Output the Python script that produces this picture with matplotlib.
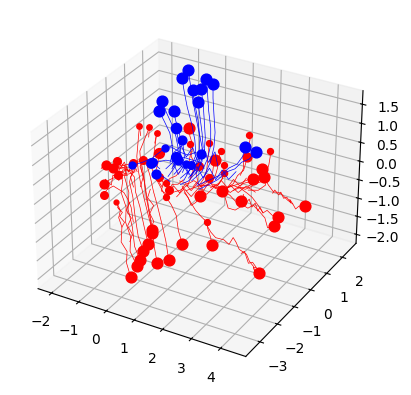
import matplotlib
matplotlib.use('Agg')
import matplotlib.pyplot as plt

# trajectories, the marker sits on the first point of each
blue_x = [
    [-.81,-.73,-.65,-.53,-.41,-.30,-.30,-.53],
    [-1.04,-.96,-.85,-.69,-.57,-.53,-.73,-1.0],
    [-.14,-.10,-.06,.02,.02,-.10,-.30,-.69],
    [.10,.10,.14,.18,.14,.02,-.22,-.49],
    [-.65,-.57,-.45,-.38,-.41,-.61,-.89],
    [-.34,-.26,-.22,-.18,-.22,-.41,-.73],
    [-.45,-.38,-.30,-.26,-.41,-.81,-1.12],
    [-1.79,-1.63,-1.44,-1.28,-1.2,-1.2,-1.4],
    [-1.91,-1.71,-1.51,-1.44,-1.4,-1.51],
    [-1.36,-1.28,-1.16,-1.08,-1.12,-1.32,-1.59],
    [-1.28,-1.2,-1.12,-1.2,-1.44],
    [-1.04,-1.0,-.96,-1.08,-1.36],
    [-2.97,-2.58,-2.18,-1.79,-1.4],
    [-1.71,-1.4,-1.12,-.81,-.53],
    [-2.26,-1.99,-1.67,-1.28,-.96],
    [-1.28,-1.0,-.69,-.41,-.22],
    [-.34,-.49,-.61,-.81],
    [-.73,-.49,-.81,-1.12],
    [1.28,1.2,1.0,.69,.45,.18,-.14,-.49],
    [1.67,1.43,1.16,.92,.61,.29,-.10,-.41],
    [-2.07,-1.79,-1.51],
    [-1.2,-.96,-.81],
    [-.89,-1.04],
    [-2.18,-1.91],
]
blue_z = [
    [1.64,1.28,.91,.46,.04,-.33,-.72,-1.12],
    [1.40,1.05,.65,.24,-.18,-.59,-1.0,-1.41],
    [1.54,1.16,.72,.26,-.21,-.61,-1.0,-1.34],
    [1.44,1.07,.60,.17,-.24,-.66,-1.11,-1.38],
    [1.14,.79,.37,-.09,-.49,-.88,-1.2],
    [1.24,.86,.42,-.04,-.45,-.88,-1.22],
    [.87,.49,.06,-.32,-.75,-1.10,-1.36],
    [.63,.35,.08,-.23,-.53,-.79,-1.1],
    [.34,.09,-.18,-.45,-.71,-1.0],
    [.44,.19,-.07,-.37,-.70,-1.08,-1.41],
    [0,-.27,-.51,-.84,-1.16],
    [-.28,-.49,-.74,-1.03,-1.3],
    [-1.39,-1.22,-1.01,-.71,-.50],
    [-.64,-.57,-.64,-.65,-.52],
    [-1.18,-1.09,-.97,-.94,-1.06],
    [-.81,-.75,-.76,-.75,-.89],
    [-.53,-.77,-1.06,-1.29],
    [-.90,-1.04,-1.37,-1.54],
    [.01,-.27,-.52,-.70,-.91,-1.07,-1.24,-1.43],
    [-.06,-.30,-.44,-.67,-.82,-1.10,-1.34,-1.52],
    [-1.43,-1.45,-1.54],
    [-.87,-1.01,-1.18],
    [-.91,-1.18],
    [-1.14,-1.26],
]
blue_s = [60,60,60,60,60,60,60,60,60,60,55,40,25,25,45,50,40,30,60,60,40,40,25,30]

# tight wiggles in the blue bundle, no marker on these
wiggle_blue_x = [
    [-1.67,-1.4,-1.2,-.96,-.73,-.49,-.26,-.02,.21,.45,.69,.96],
    [-1.36,-1.08,-.89,-.65,-.49,-.22,-.06,.18,.29],
]
wiggle_blue_z = [
    [-1.21,-.97,-1.27,-.95,-1.22,-.90,-1.17,-.85,-1.12,-.80,-1.01,-.74],
    [-.69,-.45,-.72,-.41,-.72,-.37,-.70,-.36,-.73],
]

red_x = [
    [-.35,-.49,-.46,-.67,-.63,-.74,-.67,-.81],
    [-.11,-.35,-.32,-.49,-.46,-.63,-.56,-.70],
    [0,-.18,-.25,-.39,-.35,-.49,-.42,-.77],
    [.14,-.04,-.14,-.21,-.32,-.21,-.28,-.91],
    [.32,.18,.04,-.11,-.14,-.35,-1.16],
    [.46,.32,.18,.07,0,-.04,.07],
    [.46,.39,.28,.21,.11,.07,.42],
    [.63,.53,.46,.35,.25,.18,.11,-.18],
    [1.05,.95,.81,.67,.53,.42,.32,.18],
    [1.54,1.40,1.33,1.16,.95,.67,.49,.67],
    [2.56,2.53,2.42,2.39,2.21,2.0,1.83,1.65,1.54],
    [4.21,4.04,4.0,3.86,3.76,3.51,3.40,3.30,3.16,2.98,2.70,2.53,2.32],
    [4.57,4.36,4.25,4.15,3.97,3.80,3.66,3.48,3.30,3.2,3.02,2.67,2.32,1.80],
    [3.66,3.45,3.27,3.13,2.95,2.74,2.57,2.32,2.08,1.80],
    [3.52,3.30,3.2,3.02,2.78,2.60,2.43,2.15,1.90,1.80,1.69],
    [2.36,2.15,1.97,1.73,1.51,1.27,.92],
    [1.69,1.51,1.20,.92,.64,.39],
    [.88,.74,.57,.46,.32],
    [1.23,1.09,.92,.67,.46,.15],
    [2.78,2.60,2.43,2.22,1.97,1.69],
    [3.13,3.02,2.85,2.67,2.50,2.25],
    [3.06,3.02,2.85,2.74,2.57,2.32,2.08],
    [2.53,2.50,2.43,2.22,2.08,1.87],
    [2.60,2.64,2.60,2.46,2.43,2.43,2.32],
    [3.34,3.34,3.30,3.23,3.13,3.2,2.95,2.60],
    [1.62,1.55,1.51,1.44,1.30],
    [1.20,1.20,1.16,1.13,1.02,.85],
    [1.41,1.37,1.34,1.20,.92],
    [1.76,1.73,1.69,1.55,1.27],
    [1.73,1.69,1.55,1.34],
    [.50,.53,.64,.57,.74,.60,.43],
    [.53,.57,.50,.64,.53],
    [.74,.70,.60,.70,.84],
    [.74,.88,.81,1.05],
    [.85,.74,.81,.64],
    [.98,1.19,1.47,1.75],
    [1.09,1.19,1.40,1.58],
    [.98,1.12,1.33,1.47],
    [-1.26,-1.16,-.91,-.70,-.53,-.39,-.28,-.21],
    [-1.23,-1.05,-.88,-.63,-.39],
    [-1.16,-.91,-.63,-.35],
    [-.91,-.70,-.39,-.18],
    [-.77,-.56,-.35,-.11],
    [-.74,-.53,-.35,-.11],
    [-.18,-.11,-.28,-.18],
    [.18,.07,.18,.07],
    [-.81,-.74,-.67],
    [2.39,2.32],
    [.07,.11],
    [.42,.39],
    [.67,.60],
]
red_z = [
    [-2.22,-1.88,-1.56,-1.35,-.94,-.71,-.51,-.30],
    [-1.87,-1.53,-1.13,-.78,-.37,-.02,.31,.43],
    [-1.68,-1.36,-.85,-.41,.04,.41,.69,.78],
    [-1.41,-1.06,-.56,-.05,.32,.61,.80,.57],
    [-1.19,-.75,-.26,.11,.49,.62,.58],
    [-.76,-.37,.04,.41,.71,1.04,1.83],
    [-.86,-.43,.02,.44,.74,1.2,1.87],
    [-1.61,-1.19,-.68,-.18,.27,.65,.95,.83],
    [-1.45,-.95,-.51,-.10,.26,.63,.87,.99],
    [-.91,-.58,-.20,.04,.23,.56,.83,1.77],
    [-.69,-.51,-.28,-.13,-.04,.09,.26,.46,.61],
    [-1.05,-1.04,-.92,-.82,-.66,-.59,-.43,-.33,-.54,-.46,-.47,-.36,-.14],
    [-.07,-.12,-.22,-.11,-.05,.04,.09,.06,.20,.31,.40,.24,.04,-.21],
    [-.56,-.56,-.47,-.57,-.40,-.24,-.17,-.09,-.07,-.18],
    [-.83,-.93,-.69,-.57,-.44,-.56,-.52,-.71,-.71,-.47,-.29],
    [-.43,-.47,-.36,-.28,-.19,-.19,-.35],
    [-.29,-.24,-.26,-.32,-.44,-.57],
    [-.62,-.81,-.93,-.74,-.64],
    [-.04,-.15,-.32,-.24,-.37,-.36],
    [.24,.13,.06,-.09,-.28,-.18],
    [.37,.22,.15,.01,-.08,-.08],
    [.57,.40,.23,.13,-.01,-.07,-.20],
    [.77,.60,.40,.22,-.02,-.17],
    [1.36,1.24,1.10,.88,.72,.46,.25],
    [1.10,.94,.73,.53,.37,.18,-.01,-.08],
    [.73,.53,.26,.06,-.16],
    [.87,.66,.39,.12,-.12,-.34],
    [.47,.30,.11,-.13,-.35],
    [.41,.25,.03,-.13,-.30],
    [.19,.03,-.16,-.26],
    [1.11,.91,.67,.39,.16,-.13,-.43],
    [.70,.52,.24,.01,-.22],
    [1.28,1.01,.75,.57,.44],
    [.68,.56,.33,.28],
    [.19,-.02,-.22,-.41],
    [.21,.37,.49,.69],
    [.42,.58,.63,.78],
    [.58,.72,.83,.97],
    [-.23,-.07,.09,.04,0,-.15,-.33,-.71],
    [.07,.22,.31,.42,.48],
    [.58,.62,.63,.70],
    [.57,.49,.62,.62],
    [.78,.65,.62,.68],
    [.42,.48,.52,.63],
    [.83,.68,.46,.22],
    [.99,.81,.57,.28],
    [-.30,-.47,-.51],
    [-.13,-.09],
    [1.83,1.6],
    [1.87,1.62],
    [1.77,1.51],
]
red_y = [-2]*12 + [0]*13 + [0]*7 + [-2]*2 + [0] + [-2]*16
red_s = [60,60,60,60,60,60,60,60,60,60,60,60,60,60,60,60,60,60,30,60,60,60,40,18,18,
         18,18,60,18,20,60,18,50,30,30,18,30,18,30,40,40,40,30,30,30,30,12,18,15,15,15]

# tight red wiggles, no marker on these
wiggle_red_x = [
    [-1.33,-1.12,-.98,-.81,-.67,-.49,-.35,-.18,-.04],
    [-1.33,-1.12,-1.19,-.98,-.91,-.70,-.56],
    [-.81,-.56,-.70,-.42,-.49],
    [-.31,-.07,.15,.36,.57,.81,1.02,1.23,1.44,1.65,1.87,2.08,2.32,2.53],
    [.04,.32,.57,.85,1.13,1.41,1.69,1.97,2.25,2.53,2.85],
    [4.15,4.04,4.08,3.94,3.83,3.73,3.66,3.52,3.45],
    [3.13,3.02,2.95,2.85,2.74,2.64,2.53,2.43],
    [4.07,4.0,4.11,3.97,3.83,3.76,3.69,3.58],
    [-.63,-.53,-.70,-.60,-.77],
    [-.35,-.25,-.42,-.28,-.46,-.32],
    [.49,.39,.53,.39,.53,.32,.42],
]
wiggle_red_z = [
    [.46,.70,.47,.80,.57,.80,.57,.88,.65],
    [.12,-.04,.21,.10,.38,.28,.57],
    [.41,.36,.54,.50,.72],
    [-.78,-.54,-.68,-.39,-.53,-.27,-.43,-.15,-.29,-.03,-.17,.09,-.04,.22],
    [-.81,-.53,-.69,-.39,-.51,-.24,-.37,-.09,-.22,.01,-.08],
    [-.11,-.01,-.10,.02,-.03,.11,.02,.12,.02],
    [-.57,-.44,-.56,-.37,-.50,-.31,-.44,-.23],
    [-1.08,-.94,-.94,-.82,-.88,-.74,-.60,-.68],
    [-.94,-.79,-.67,-.54,-.45],
    [-1.27,-1.05,-.86,-.62,-.45,-.21],
    [-.94,-.77,-.53,-.35,-.11,.05,.29],
]
wiggle_red_y = [-2, -2, -2, 0, 0, 0, 0, -2, -2, -2, -2]

fig = plt.figure(figsize=(4.11, 3.95), dpi=100)
ax = fig.add_axes([(195 - 184.8) / 411, (395 - 195 - 184.8) / 395, 369.6 / 411, 369.6 / 395],
                  projection='3d', computed_zorder=False)

for xs, zs, y in zip(wiggle_red_x, wiggle_red_z, wiggle_red_y):
    ax.plot(xs, [y] * len(xs), zs, color='red', lw=0.5, zorder=1)

for xs, zs, y, s in zip(red_x, red_z, red_y, red_s):
    ax.plot(xs, [y] * len(xs), zs, color='red', lw=0.5, zorder=1)
    ax.scatter(xs[0], y, zs[0], c='red', s=s, depthshade=False, zorder=2)

for xs, zs in zip(wiggle_blue_x, wiggle_blue_z):
    ax.plot(xs, [2] * len(xs), zs, color='blue', lw=0.5, zorder=3)

for xs, zs, s in zip(blue_x, blue_z, blue_s):
    ax.plot(xs, [2] * len(xs), zs, color='blue', lw=0.5, zorder=3)
    ax.scatter(xs[0], 2, zs[0], c='blue', s=s, depthshade=False, zorder=4)

ax.set_xlim(-2.5, 4.85)
ax.set_ylim(-3.8, 2.9)
ax.set_zlim(-2.25, 1.85)
fig.savefig('out.png', dpi=100)
